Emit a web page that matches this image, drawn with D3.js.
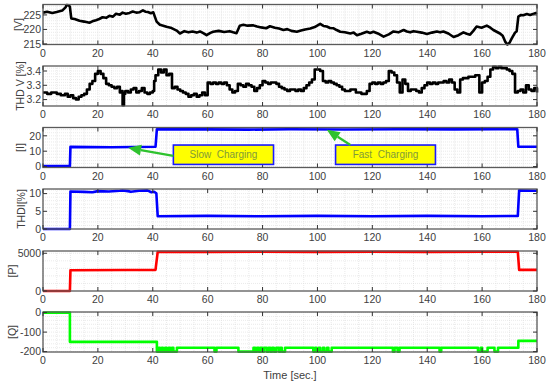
<!DOCTYPE html>
<html>
<head>
<meta charset="utf-8">
<script src="https://cdn.jsdelivr.net/npm/d3@7"></script>
<style>
  body { margin: 0; background: #fff; }
  svg { display: block; font-family: "Liberation Sans", Arial, sans-serif; }
</style>
</head>
<body>
<svg id="chart" width="550" height="388"></svg>
<script>
// Charging test record: grid voltage, THD, current, power (six stacked panels)

const timeTicks = [0, 20, 40, 60, 80, 100, 120, 140, 160, 180];

// Voltage [V]
const voltTime = [0, 1.5, 3.4, 5, 7, 8.2, 8.6, 9.4, 9.8, 10.3, 11.5, 13.3, 15, 16.9, 18, 19.3, 20.5, 21.7, 23, 24.2, 25.5, 26.6, 28, 29, 30.2, 31.5, 32.7, 34, 35.1, 36.4, 37.3, 38.2, 39.3, 40.2, 41.4, 42.6, 43.8, 45, 46.5, 48.7, 49.9, 51.5, 53, 54.5, 56, 57.2, 58.4, 59.6, 61, 62, 64, 66, 68, 69.3, 70.5, 71.7, 73, 74.5, 76.5, 78, 79.5, 81.3, 82.7, 84.5, 86, 87.6, 89, 90.5, 92.5, 94, 95.5, 97.4, 99, 101, 102.2, 103.4, 104.6, 105.9, 107, 108.3, 110, 112, 113.2, 114.4, 116, 118, 119.2, 120.4, 122, 124.1, 126, 127.7, 129.5, 131.4, 132.6, 133.8, 135, 136.2, 138, 139.9, 141.7, 143.5, 144.7, 145.9, 147.7, 149.6, 151.4, 153.2, 154.4, 155.6, 156.8, 158, 159.8, 161.7, 163, 164.1, 165.3, 166.5, 167.5, 168.4, 169.2, 170, 170.8, 172, 172.6, 173.2, 174.2, 175, 176.3, 177.5, 178.8, 180];
const voltVals = [225.8, 226.1, 225.7, 226.0, 226.5, 227.6, 228.4, 228.3, 227.8, 223.8, 223.6, 223.0, 222.7, 222.3, 222.8, 223.2, 223.6, 224.2, 224.0, 224.7, 224.4, 225.4, 225.1, 225.8, 225.4, 225.7, 226.2, 225.8, 225.9, 226.6, 226.1, 226.0, 225.6, 225.9, 222.7, 221.6, 221.3, 220.9, 220.6, 219.6, 218.6, 219.4, 219.0, 219.3, 218.9, 219.3, 218.7, 218.0, 218.8, 219.2, 219.5, 219.1, 219.4, 219.0, 218.7, 221.3, 221.6, 221.3, 221.4, 221.0, 220.7, 220.4, 221.1, 220.6, 220.3, 219.8, 220.1, 219.5, 219.2, 219.6, 220.0, 220.3, 220.8, 221.9, 221.2, 221.0, 220.5, 220.4, 219.8, 219.2, 219.0, 218.6, 218.9, 218.0, 218.5, 219.2, 218.8, 219.2, 218.6, 217.5, 218.3, 219.3, 219.0, 219.8, 219.3, 219.0, 219.4, 219.2, 218.9, 218.4, 218.9, 219.3, 219.0, 219.3, 218.6, 217.4, 218.0, 219.0, 218.5, 218.2, 219.5, 221.0, 220.6, 221.3, 220.6, 219.8, 219.2, 218.6, 217.8, 215.8, 214.8, 215.4, 216.9, 218.9, 219.4, 224.4, 225.0, 224.9, 225.3, 225.0, 225.4, 225.8];

// THD of voltage [%]
const thdvTime = [0, 1.5, 3, 5, 6.5, 8, 9, 10, 11, 12, 13, 14, 15, 16, 17, 18, 19, 20, 21, 22, 23, 24, 25, 26, 27, 28, 28.6, 29, 29.5, 30, 31, 32, 33, 34, 35, 36, 37, 38, 39, 40, 40.5, 41, 42, 43, 44, 45, 46, 47, 48, 49, 50, 51, 52, 53, 54, 55, 56, 57, 58, 59, 60, 61, 62, 63, 64, 65, 66, 67, 68, 69, 70, 71, 72, 73, 74, 75, 76, 77, 78, 79, 80, 81, 82, 83, 84, 85, 86, 87, 88, 89, 90, 91, 92, 93, 94, 95, 96, 97, 98, 99, 100, 101, 102, 103, 104, 105, 106, 107, 108, 109, 110, 111, 112, 113, 114, 115, 116, 117, 118, 119, 120, 121, 122, 123, 124, 125, 126, 127, 128, 129, 130, 131, 132, 133, 134, 135, 136, 137, 138, 139, 140, 141, 142, 143, 144, 145, 146, 147, 148, 149, 150, 151, 152, 153, 154, 155, 156, 157, 157.5, 158, 159, 160, 161, 162, 163, 164, 165, 166, 167, 168, 169, 170, 171, 172, 173, 174, 175, 176, 177, 178, 179, 180];
const thdvVals = [3.25, 3.24, 3.25, 3.24, 3.23, 3.24, 3.22, 3.23, 3.21, 3.20, 3.22, 3.23, 3.24, 3.27, 3.31, 3.33, 3.38, 3.40, 3.38, 3.35, 3.31, 3.30, 3.29, 3.28, 3.29, 3.25, 3.26, 3.16, 3.24, 3.26, 3.25, 3.27, 3.28, 3.25, 3.26, 3.28, 3.25, 3.24, 3.25, 3.26, 3.33, 3.37, 3.41, 3.39, 3.41, 3.37, 3.38, 3.28, 3.29, 3.27, 3.26, 3.25, 3.24, 3.22, 3.23, 3.24, 3.22, 3.23, 3.25, 3.23, 3.32, 3.31, 3.32, 3.31, 3.32, 3.31, 3.32, 3.30, 3.27, 3.25, 3.26, 3.31, 3.30, 3.29, 3.31, 3.30, 3.29, 3.26, 3.28, 3.30, 3.33, 3.32, 3.31, 3.32, 3.32, 3.31, 3.29, 3.28, 3.27, 3.26, 3.27, 3.27, 3.26, 3.27, 3.26, 3.28, 3.30, 3.32, 3.34, 3.41, 3.41, 3.40, 3.33, 3.32, 3.33, 3.32, 3.31, 3.30, 3.29, 3.27, 3.26, 3.26, 3.27, 3.27, 3.25, 3.25, 3.24, 3.24, 3.26, 3.31, 3.32, 3.31, 3.32, 3.31, 3.32, 3.33, 3.40, 3.39, 3.37, 3.32, 3.25, 3.34, 3.31, 3.26, 3.27, 3.27, 3.26, 3.25, 3.28, 3.30, 3.32, 3.31, 3.32, 3.31, 3.32, 3.32, 3.33, 3.32, 3.34, 3.32, 3.27, 3.25, 3.34, 3.35, 3.35, 3.36, 3.36, 3.36, 3.37, 3.37, 3.25, 3.32, 3.33, 3.36, 3.41, 3.43, 3.42, 3.43, 3.42, 3.42, 3.41, 3.40, 3.38, 3.25, 3.26, 3.27, 3.25, 3.30, 3.27, 3.26, 3.28, 3.25, 3.27, 3.31];

// Current [A]
const curTime = [0, 9.8, 10, 25, 41, 41.5, 60, 75, 90, 110, 130, 150, 165, 172.8, 173.2, 180];
const curVals = [0.3, 0.3, 12.8, 12.6, 12.9, 24.3, 24.2, 24.0, 24.3, 24.1, 24.3, 24.2, 24.3, 24.3, 12.9, 12.9];

// THD of current [%]
const thdiTime = [0, 9.8, 10, 15, 18, 20, 24, 28, 29, 31, 32, 35, 38, 39.5, 40.5, 41.3, 41.8, 60, 80, 100, 120, 140, 160, 173, 173.5, 180];
const thdiVals = [0, 0, 10.6, 10.5, 10.4, 10.7, 10.6, 10.8, 10.9, 10.7, 10.5, 10.8, 10.9, 10.4, 10.5, 10.1, 3.6, 3.7, 3.6, 3.7, 3.6, 3.7, 3.6, 3.7, 10.9, 10.8];

// Active power [W]
const powTime = [0, 9.8, 10, 30, 41, 41.8, 60, 80, 100, 120, 140, 160, 173, 173.5, 180];
const powVals = [0, 0, 2750, 2780, 2800, 5200, 5180, 5210, 5190, 5200, 5180, 5210, 5200, 2800, 2800];

// Reactive power [var] (step signal)
const qTime = [0, 9.8, 41.5, 42.2, 42.6, 43.3, 43.7, 44.5, 45, 45.8, 46.3, 47, 47.5, 48.8, 62.5, 63.2, 71.2, 76.7, 77.3, 78, 78.6, 79.2, 79.8, 80.5, 81.5, 82.2, 82.8, 83.5, 84.1, 85, 86, 86.5, 87, 88.2, 98.5, 99.2, 99.6, 100.5, 101, 102, 102.5, 103.5, 104, 105.2, 127.5, 128.1, 129.2, 129.9, 144.5, 145.1, 158.5, 159.5, 160, 162, 164.5, 165.8, 173.2, 180];
const qVals = [0, -150, -200, -180, -200, -180, -200, -180, -200, -180, -200, -180, -200, -180, -200, -180, -200, -180, -200, -180, -200, -180, -200, -180, -200, -180, -200, -180, -200, -180, -200, -180, -200, -180, -200, -180, -200, -180, -200, -180, -200, -180, -200, -180, -200, -180, -200, -180, -200, -180, -200, -180, -200, -180, -200, -180, -145, -145];

// y tick labels per panel
const voltTicks = [215, 220, 225];
const thdvTicks = [3.2, 3.3, 3.4];
const curTicks = [0, 10, 20];
const thdiTicks = [0, 5, 10];
const powTicks = [0, 5000];
const qTicks = [-200, -100, 0];

// callouts on the current panel
const noteLabels = ["Slow  Charging", "Fast  Charging"];
const noteBoxT = [[47.5, 84], [106.6, 143]];      // box extent in time
const noteBoxI = [[1.4, 14.0], [1.4, 14.0]];       // box extent in current
const noteTail = [[47.5, 7.0], [112, 14.0]];       // arrow start
const noteTip = [[31, 12.2], [103.4, 24.0]];       // arrow head

const svg = d3.select("#chart");
const left = 43, right = 537;
const panelTop = [4.5, 66, 127.5, 189, 251, 312];
const panelH = 40;

const x = d3.scaleLinear().domain([0, 180]).range([left, right]);

const panels = [
    { t: voltTime, v: voltVals, domain: [214.8, 228.6], ticks: voltTicks, color: "#000", label: "[V]", lx: 18, curve: d3.curveLinear },
    { t: thdvTime, v: thdvVals, domain: [3.155, 3.435], ticks: thdvTicks, color: "#000", label: "THD V [%]", lx: 20, curve: d3.curveStepAfter },
    { t: curTime, v: curVals, domain: [-0.6, 25.4], ticks: curTicks, color: "#0000ff", label: "[I]", lx: 20, curve: d3.curveLinear },
    { t: thdiTime, v: thdiVals, domain: [0, 11.3], ticks: thdiTicks, color: "#0000ff", label: "THDI[%]", lx: 21, curve: d3.curveLinear },
    { t: powTime, v: powVals, domain: [0, 5300], ticks: powTicks, color: "#ff0000", label: "[P]", lx: 12, curve: d3.curveLinear },
    { t: qTime, v: qVals, domain: [-202, 3], ticks: qTicks, color: "#00ff00", label: "[Q]", lx: 12, curve: d3.curveStepAfter }
];

panels.forEach(function (p, i) {
    const top = panelTop[i];
    const y = d3.scaleLinear().domain(p.domain).range([top + panelH, top]);
    const g = svg.append("g");

    g.append("rect")
        .attr("x", left).attr("y", top)
        .attr("width", right - left).attr("height", panelH)
        .attr("fill", "#fff");

    // minor grid
    const xMinor = d3.range(0, 180.01, 5);
    g.selectAll(".gx").data(xMinor).enter().append("line")
        .attr("x1", d => x(d)).attr("x2", d => x(d))
        .attr("y1", top).attr("y2", top + panelH)
        .attr("stroke", "#dcdcdc").attr("stroke-width", 0.6)
        .attr("stroke-dasharray", "1,1");
    const step = (p.ticks[1] - p.ticks[0]) / 5;
    const yMinor = d3.range(p.ticks[0], p.domain[1], step).filter(v => v > p.domain[0]);
    g.selectAll(".gy").data(yMinor).enter().append("line")
        .attr("x1", left).attr("x2", right)
        .attr("y1", d => y(d)).attr("y2", d => y(d))
        .attr("stroke", "#dcdcdc").attr("stroke-width", 0.6)
        .attr("stroke-dasharray", "1,1");

    // data line
    const line = d3.line()
        .x(d => x(d))
        .y((d, k) => y(p.v[k]))
        .curve(p.curve);
    g.append("path")
        .attr("d", line(p.t))
        .attr("fill", "none")
        .attr("stroke", p.color)
        .attr("stroke-width", 2.6)
        .attr("stroke-linejoin", "round");

    // box
    g.append("rect")
        .attr("x", left).attr("y", top)
        .attr("width", right - left).attr("height", panelH)
        .attr("fill", "none").attr("stroke", "#5a5a5a").attr("stroke-width", 1.3);

    // x ticks (inward, top and bottom)
    timeTicks.forEach(function (t) {
        g.append("line").attr("x1", x(t)).attr("x2", x(t))
            .attr("y1", top + panelH).attr("y2", top + panelH - 4)
            .attr("stroke", "#333").attr("stroke-width", 1);
        g.append("line").attr("x1", x(t)).attr("x2", x(t))
            .attr("y1", top).attr("y2", top + 4)
            .attr("stroke", "#333").attr("stroke-width", 1);
    });
    g.selectAll(".xl").data(timeTicks).enter().append("text")
        .attr("x", d => x(d))
        .attr("y", top + panelH + 12)
        .attr("text-anchor", "middle")
        .attr("font-size", 10.5)
        .attr("fill", "#404040")
        .text(d => d);

    // y ticks (inward, left and right)
    p.ticks.forEach(function (v) {
        g.append("line").attr("x1", left).attr("x2", left + 4)
            .attr("y1", y(v)).attr("y2", y(v))
            .attr("stroke", "#333").attr("stroke-width", 1);
        g.append("line").attr("x1", right).attr("x2", right - 4)
            .attr("y1", y(v)).attr("y2", y(v))
            .attr("stroke", "#333").attr("stroke-width", 1);
    });
    g.selectAll(".yl").data(p.ticks).enter().append("text")
        .attr("x", left - 2)
        .attr("y", d => y(d) + 3.8)
        .attr("text-anchor", "end")
        .attr("font-size", 10.5)
        .attr("fill", "#404040")
        .text(d => d);

    // y label
    g.append("text")
        .attr("transform", `translate(${p.lx},${top + panelH / 2}) rotate(-90)`)
        .attr("text-anchor", "middle")
        .attr("dy", "0.35em")
        .attr("font-size", 10.5)
        .attr("fill", "#404040")
        .text(p.label);

    if (i === 2) drawNotes(g, y);
});

function drawNotes(g, y) {
    noteLabels.forEach(function (label, k) {
        const x0 = x(noteBoxT[k][0]), x1 = x(noteBoxT[k][1]);
        const y0 = y(noteBoxI[k][1]), y1 = y(noteBoxI[k][0]);
        g.append("rect")
            .attr("x", x0).attr("y", y0)
            .attr("width", x1 - x0).attr("height", y1 - y0)
            .attr("fill", "#ffff00")
            .attr("stroke", "#1a1aff").attr("stroke-width", 1.6);
        g.append("text")
            .attr("x", (x0 + x1) / 2).attr("y", (y0 + y1) / 2)
            .attr("dy", "0.35em")
            .attr("text-anchor", "middle")
            .attr("font-size", 10)
            .attr("fill", "#7f9a3a")
            .style("white-space", "pre")
            .text(label);

        // arrow
        const sx = x(noteTail[k][0]), sy = y(noteTail[k][1]);
        const ex = x(noteTip[k][0]), ey = y(noteTip[k][1]);
        const ang = Math.atan2(ey - sy, ex - sx);
        const hl = 13, hw = 5.5;
        const bx = ex - hl * Math.cos(ang), by = ey - hl * Math.sin(ang);
        g.append("line")
            .attr("x1", sx).attr("y1", sy).attr("x2", bx).attr("y2", by)
            .attr("stroke", "#2ec22e").attr("stroke-width", 2.2);
        const px = -Math.sin(ang), py = Math.cos(ang);
        g.append("path")
            .attr("d", `M${ex},${ey}L${bx + hw * px},${by + hw * py}L${bx - hw * px},${by - hw * py}Z`)
            .attr("fill", "#2ec22e");
    });
}

// x axis title
svg.append("text")
    .attr("x", 290).attr("y", 379)
    .attr("text-anchor", "middle")
    .attr("font-size", 11)
    .attr("fill", "#404040")
    .text("Time [sec.]");
</script>
</body>
</html>
